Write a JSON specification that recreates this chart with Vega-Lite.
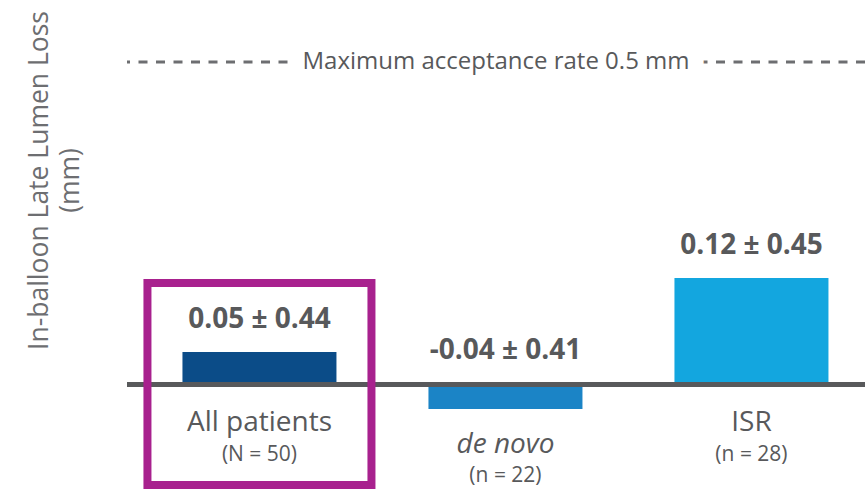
{
  "$schema": "https://vega.github.io/schema/vega-lite/v6.json",
  "width": 738,
  "height": 489,
  "autosize": {"type": "none"},
  "padding": {"left": 127, "top": 0, "right": 0, "bottom": 0},
  "background": "white",
  "config": {"view": {"stroke": null}, "font": "Open Sans"},
  "data": {
    "values": [
      {"group": "All patients", "n": "(N = 50)", "value": 0.05, "sd": 0.44, "label": "0.05 ± 0.44"},
      {"group": "de novo", "n": "(n = 22)", "value": -0.04, "sd": 0.41, "label": "-0.04 ± 0.41"},
      {"group": "ISR", "n": "(n = 28)", "value": 0.12, "sd": 0.45, "label": "0.12 ± 0.45"}
    ]
  },
  "encoding": {
    "x": {
      "field": "group",
      "type": "nominal",
      "sort": ["All patients", "de novo", "ISR"],
      "scale": {"paddingInner": 0.0894, "paddingOuter": 0.0447, "align": 0.93},
      "axis": null
    }
  },
  "layer": [
    {
      "mark": {"type": "bar", "width": {"band": 0.6875}},
      "encoding": {
        "y": {
          "field": "value",
          "type": "quantitative",
          "scale": {"domain": [-0.2, 0, 0.05, 0.12, 0.6], "range": [507, 384.5, 352, 278, 5.2], "nice": false, "zero": false},
          "axis": {
            "title": ["In-balloon Late Lumen Loss", "(mm)"],
            "labels": false, "ticks": false, "domain": false, "grid": false,
            "titleFont": "Open Sans", "titleFontSize": 26.5, "titleFontWeight": "normal",
            "titleColor": "#6d6e71", "titleAngle": -90, "titleAlign": "center",
            "titleBaseline": "alphabetic", "titleX": -80, "titleY": 180, "titleLineHeight": 31
          }
        },
        "y2": {"datum": 0},
        "color": {
          "field": "group",
          "type": "nominal",
          "scale": {"domain": ["All patients", "de novo", "ISR"], "range": ["#0b4c88", "#1b84c6", "#13a6df"]},
          "legend": null
        }
      }
    },
    {
      "mark": {"type": "rule", "color": "#58595b", "strokeWidth": 5},
      "encoding": {"x": null, "y": {"datum": 0, "type": "quantitative"}}
    },
    {
      "data": {"values": [{"note": "Maximum acceptance rate 0.5 mm", "limit": 0.5}]},
      "mark": {"type": "rule", "color": "#6d6e71", "strokeWidth": 3, "strokeDash": [9, 8.5]},
      "encoding": {"x": null, "y": {"field": "limit", "type": "quantitative"}}
    },
    {
      "data": {"values": [{"note": "Maximum acceptance rate 0.5 mm", "limit": 0.5}]},
      "mark": {"type": "text", "font": "Open Sans", "fontSize": 24, "color": "white", "stroke": "white", "strokeWidth": 32, "baseline": "middle", "align": "center"},
      "encoding": {"x": null, "y": {"field": "limit", "type": "quantitative"}, "text": {"field": "note"}}
    },
    {
      "data": {"values": [{"note": "Maximum acceptance rate 0.5 mm", "limit": 0.5}]},
      "mark": {"type": "text", "font": "Open Sans", "fontSize": 24, "color": "#58595b", "baseline": "middle", "align": "center"},
      "encoding": {"x": null, "y": {"field": "limit", "type": "quantitative"}, "text": {"field": "note"}}
    },
    {
      "transform": [{"filter": "datum.value >= 0"}],
      "mark": {"type": "text", "font": "Open Sans", "fontSize": 28, "fontWeight": "bold", "color": "#58595b", "baseline": "middle", "dy": -32},
      "encoding": {"y": {"field": "value", "type": "quantitative"}, "text": {"field": "label"}}
    },
    {
      "transform": [{"filter": "datum.value < 0"}],
      "mark": {"type": "text", "font": "Open Sans", "fontSize": 28, "fontWeight": "bold", "color": "#58595b", "baseline": "middle", "dy": -34},
      "encoding": {"y": {"datum": 0, "type": "quantitative"}, "text": {"field": "label"}}
    },
    {
      "transform": [{"filter": "datum.value >= 0"}],
      "mark": {"type": "text", "font": "Open Sans", "fontSize": 28, "color": "#58595b", "baseline": "middle", "dy": 38},
      "encoding": {"y": {"datum": 0, "type": "quantitative"}, "text": {"field": "group"}}
    },
    {
      "transform": [{"filter": "datum.value >= 0"}],
      "mark": {"type": "text", "font": "Open Sans", "fontSize": 21, "color": "#58595b", "baseline": "middle", "dy": 70},
      "encoding": {"y": {"datum": 0, "type": "quantitative"}, "text": {"field": "n"}}
    },
    {
      "transform": [{"filter": "datum.value < 0"}],
      "mark": {"type": "text", "font": "Open Sans", "fontSize": 28, "fontStyle": "italic", "color": "#58595b", "baseline": "middle", "dy": 36},
      "encoding": {"y": {"field": "value", "type": "quantitative"}, "text": {"field": "group"}}
    },
    {
      "transform": [{"filter": "datum.value < 0"}],
      "mark": {"type": "text", "font": "Open Sans", "fontSize": 21, "color": "#58595b", "baseline": "middle", "dy": 67},
      "encoding": {"y": {"field": "value", "type": "quantitative"}, "text": {"field": "n"}}
    },
    {
      "transform": [{"filter": "datum.group === 'All patients'"}],
      "mark": {"type": "rect", "fill": null, "fillOpacity": 0, "stroke": "#a8218e", "strokeWidth": 8},
      "encoding": {"y": {"datum": 0.1153, "type": "quantitative"}, "y2": {"datum": -0.164}}
    }
  ]
}
